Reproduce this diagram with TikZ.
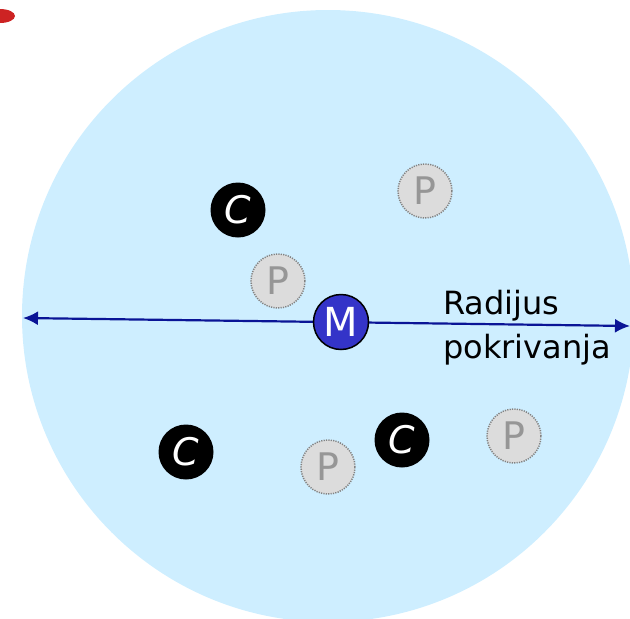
\documentclass[tikz,border=0pt]{standalone}
\usepackage{fontspec}
\setmainfont{DejaVu Sans}
\usetikzlibrary{arrows.meta}
\definecolor{areablue}{RGB}{206,238,255}
\definecolor{arrowblue}{RGB}{10,20,150}
\definecolor{mblue}{RGB}{52,52,200}
\definecolor{pgrey}{RGB}{220,220,220}
\definecolor{ptext}{RGB}{150,150,150}
\definecolor{pborder}{RGB}{130,130,130}
\definecolor{redmark}{RGB}{205,35,35}
\tikzset{
  cnode/.style={circle, fill=black, minimum size=55pt, inner sep=0pt, text=white, font=\fontsize{38}{38}\selectfont\itshape},
  pnode/.style={circle, fill=pgrey, draw=pborder, dash pattern=on 1.2pt off 1.2pt, line width=1.5pt, minimum size=54pt, inner sep=0pt, text=ptext, font=\fontsize{38}{38}\selectfont},
  mnode/.style={circle, fill=mblue, draw=black, line width=1.5pt, minimum size=55pt, inner sep=0pt, text=white, font=\fontsize{40}{40}\selectfont},
  radarrow/.style={draw=arrowblue, line width=2.2pt, {Latex[length=15pt,width=14pt]}-{Latex[length=15pt,width=14pt]}},
  lbl/.style={align=left, anchor=north west, inner sep=0pt, font=\fontsize{32}{44}\selectfont}
}
\begin{document}
\begin{tikzpicture}[x=1pt,y=-1pt]
\useasboundingbox (0,0) rectangle (630,619);
\fill[redmark] (0,16) ellipse [x radius=15, y radius=7];
\fill[areablue] (328,316) circle [radius=306];
\coordinate (L) at (23,318);
\coordinate (R) at (630,326);
\draw[radarrow] (L) -- (R);
\node[cnode] (c1) at (238,210) {C};
\node[cnode] (c2) at (186,452) {C};
\node[cnode] (c3) at (402,440) {C};
\node[pnode] (p1) at (425,191) {P};
\node[pnode] (p2) at (278,281) {P};
\node[pnode] (p3) at (328,467) {P};
\node[pnode] (p4) at (514,436) {P};
\node[mnode] (m) at (341,322) {M};
\node[lbl] (t) at (443,290) {Radijus\\pokrivanja};
\end{tikzpicture}
\end{document}
